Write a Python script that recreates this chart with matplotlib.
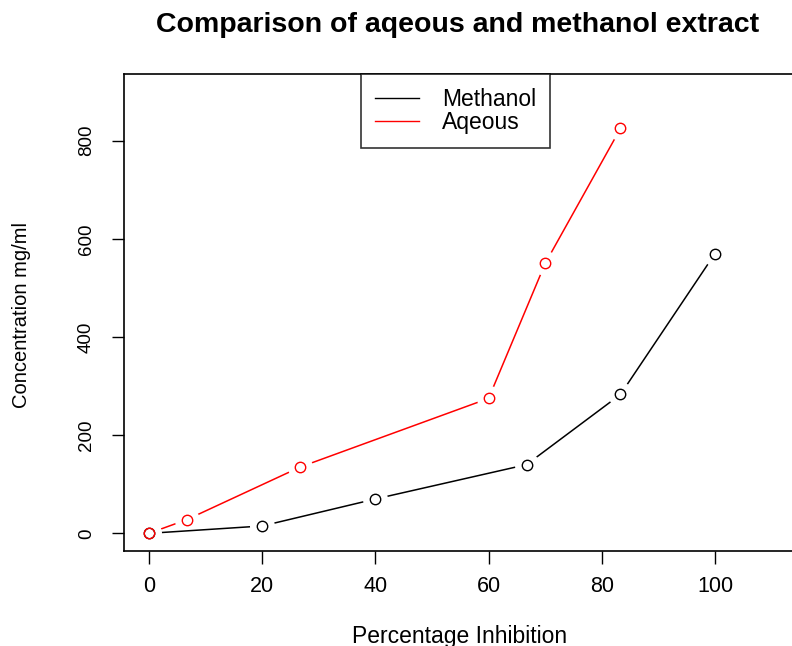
import matplotlib
matplotlib.use("Agg")
import matplotlib.pyplot as plt
from matplotlib.lines import Line2D

plt.rcParams['font.family'] = ['Liberation Sans', 'DejaVu Sans']

methanol_x = [0, 20, 40, 66.7, 83.3, 100]
methanol_y = [0, 15, 70, 140, 283, 570]
aqeous_x = [0, 6.7, 26.7, 60, 70, 83.3]
aqeous_y = [0, 28, 135, 275, 550, 825]
x_ticks = [0, 20, 40, 60, 80, 100]
y_ticks = [0, 200, 400, 600, 800]

W, H = 792, 646
fig = plt.figure(figsize=(W / 100, H / 100), dpi=100)
left, top, bottom = 124, 74, 551
ax_right = 830
x0 = (left - 149) / 5.66
ax = fig.add_axes([left / W, 1 - bottom / H, (ax_right - left) / W, (bottom - top) / H])
ax.set_xlim(x0, x0 + (ax_right - left) / 5.66)
ax.set_ylim(-36, 936)
ax.spines['right'].set_visible(False)

gap_ms = 18
circ_ms = 7.5
ax.plot(aqeous_x, aqeous_y, color='red', lw=1.1, zorder=2)
ax.plot(aqeous_x, aqeous_y, ls='none', marker='o', ms=gap_ms, mfc='white', mec='none', zorder=3)
ax.plot(methanol_x, methanol_y, color='black', lw=1.1, zorder=4)
ax.plot(methanol_x, methanol_y, ls='none', marker='o', ms=gap_ms, mfc='white', mec='none', zorder=5)
ax.plot(methanol_x, methanol_y, ls='none', marker='o', ms=circ_ms, mfc='none', mec='black', mew=1.0, zorder=6)
ax.plot(aqeous_x, aqeous_y, ls='none', marker='o', ms=circ_ms, mfc='none', mec='red', mew=1.0, zorder=7)

ax.set_xticks(x_ticks)
ax.set_xticklabels([str(v) for v in x_ticks])
ax.set_yticks(y_ticks)
ax.set_yticklabels([str(v) for v in y_ticks], rotation=90, va='center')
ax.tick_params(axis='x', direction='out', length=9, width=1, labelsize=15.5, pad=9)
ax.tick_params(axis='y', direction='out', length=9, width=1, labelsize=13.5, pad=12)
for s in ax.spines.values():
    s.set_linewidth(1.2)

fig.text(460 / W, 1 - 636 / H, 'Percentage Inhibition', ha='center', va='center', fontsize=16.5)
fig.text(22 / W, 1 - 315 / H, 'Concentration mg/ml', ha='center', va='center',
         rotation=90, fontsize=14.5)
fig.text(458 / W, 1 - 25 / H, 'Comparison of aqeous and methanol extract',
         ha='center', va='center', fontsize=20.5, fontweight='bold')

handles = [Line2D([], [], color='black', lw=1.0), Line2D([], [], color='red', lw=1.0)]
leg = ax.legend(handles, ['Methanol', 'Aqeous'], loc='upper left',
                bbox_to_anchor=((361 - left) / (ax_right - left), 1.0),
                frameon=True, fancybox=False, edgecolor='black', fontsize=16.5,
                handlelength=1.95, handletextpad=1.0, borderpad=0.6,
                labelspacing=0.02, borderaxespad=0)
leg.get_frame().set_linewidth(1.2)

fig.savefig('out.png', dpi=100)
